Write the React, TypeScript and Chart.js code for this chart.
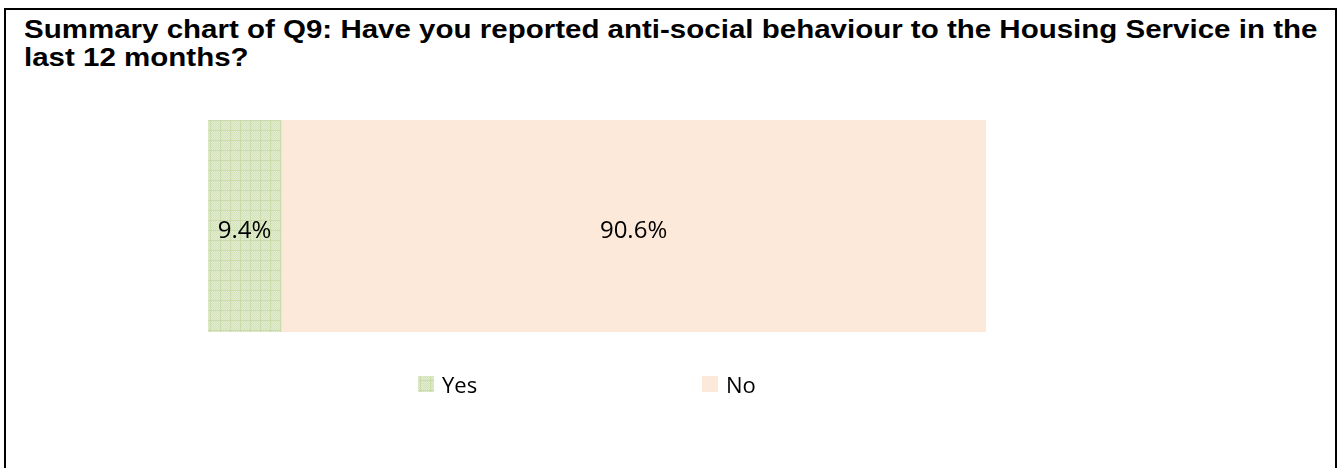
import React, { useEffect, useRef } from "react";
import { Chart, registerables } from "chart.js";

Chart.register(...registerables);

const categories = ["Q9"];
const seriesLabels = ["Yes", "No"];
const yesValues = [9.4];
const noValues = [90.6];
const titleLines = [
  "Summary chart of Q9: Have you reported anti-social behaviour to the Housing Service in the",
  "last 12 months?",
];

const LABEL_FONT = "24px 'Open Sans', sans-serif";
const LEGEND_FONT = "22px 'Open Sans', sans-serif";

function makePattern(): CanvasPattern | string {
  const c = document.createElement("canvas");
  c.width = 10;
  c.height = 10;
  const g = c.getContext("2d");
  if (!g) return "#d8e6c2";
  g.fillStyle = "#e2ecd1";
  g.fillRect(0, 0, 10, 10);
  g.fillStyle = "#d5e3bc";
  for (let i = 0; i < 10; i++) {
    for (let j = 0; j < 10; j++) {
      if ((i + j) % 2 === 0) g.fillRect(i, j, 1, 1);
    }
  }
  g.fillStyle = "#cadca9";
  g.fillRect(0, 0, 10, 1);
  g.fillRect(0, 0, 1, 10);
  const p = g.createPattern(c, "repeat");
  return p || "#d8e6c2";
}

export default function App() {
  const ref = useRef<HTMLCanvasElement | null>(null);

  useEffect(() => {
    if (!ref.current) return;
    const pattern = makePattern();
    const colors = [pattern, "#fde9d9"];

    const dataLabels = {
      id: "dataLabels",
      afterDatasetsDraw(chart: any) {
        const ctx = chart.ctx;
        ctx.save();
        ctx.font = LABEL_FONT;
        ctx.fillStyle = "#000";
        ctx.textAlign = "center";
        ctx.textBaseline = "alphabetic";
        chart.data.datasets.forEach((ds: any, di: number) => {
          const meta = chart.getDatasetMeta(di);
          meta.data.forEach((el: any, i: number) => {
            const v = ds.data[i];
            const cx = (el.x + el.base) / 2;
            ctx.fillText(v.toFixed(1) + "%", cx, el.y + 12);
          });
        });
        ctx.restore();
      },
    };

    const customLegend = {
      id: "customLegend",
      afterDraw(chart: any) {
        const ctx = chart.ctx;
        const a = chart.chartArea;
        const offsets = [210, 494];
        const y = a.bottom + 52;
        ctx.save();
        ctx.font = LEGEND_FONT;
        ctx.textBaseline = "alphabetic";
        ctx.textAlign = "left";
        chart.data.datasets.forEach((ds: any, di: number) => {
          const x = a.left + offsets[di];
          ctx.fillStyle = ds.backgroundColor;
          ctx.fillRect(x, y - 8, 16, 16);
          ctx.fillStyle = "#000";
          ctx.fillText(ds.label, x + 24, y + 9);
        });
        ctx.restore();
      },
    };

    const chart = new Chart(ref.current, {
      type: "bar",
      data: {
        labels: categories,
        datasets: [
          { label: seriesLabels[0], data: yesValues, backgroundColor: colors[0] as any, borderWidth: 0 },
          { label: seriesLabels[1], data: noValues, backgroundColor: colors[1], borderWidth: 0 },
        ],
      },
      options: {
        indexAxis: "y",
        animation: false,
        responsive: false,
        maintainAspectRatio: false,
        layout: { padding: { left: 208, right: 352, top: 120, bottom: 136 } },
        datasets: { bar: { barPercentage: 1, categoryPercentage: 1 } },
        scales: {
          x: { stacked: true, min: 0, max: 100, display: false },
          y: { stacked: true, display: false },
        },
        plugins: {
          legend: { display: false },
          tooltip: { enabled: false },
          title: { display: false },
        },
      },
      plugins: [dataLabels, customLegend],
    });
    return () => chart.destroy();
  }, []);

  return (
    <div style={{ position: "fixed", left: 0, top: 0, width: 1338, height: 468, overflow: "hidden", background: "#fff" }}>
      <div
        style={{
          position: "absolute",
          left: 4,
          top: 8,
          width: 1333,
          height: 520,
          border: "2px solid #000",
          boxSizing: "border-box",
        }}
      />
      <div
        style={{
          position: "absolute",
          left: 24,
          top: 15,
          font: "bold 25px 'Liberation Sans', Arial, sans-serif",
          lineHeight: "28px",
          color: "#000",
          whiteSpace: "nowrap",
          transform: "scaleX(1.18)",
          transformOrigin: "0 0",
        }}
      >
        {titleLines[0]}
        <br />
        {titleLines[1]}
      </div>
      <canvas ref={ref} width={1338} height={468} style={{ position: "absolute", left: 0, top: 0 }} />
    </div>
  );
}
